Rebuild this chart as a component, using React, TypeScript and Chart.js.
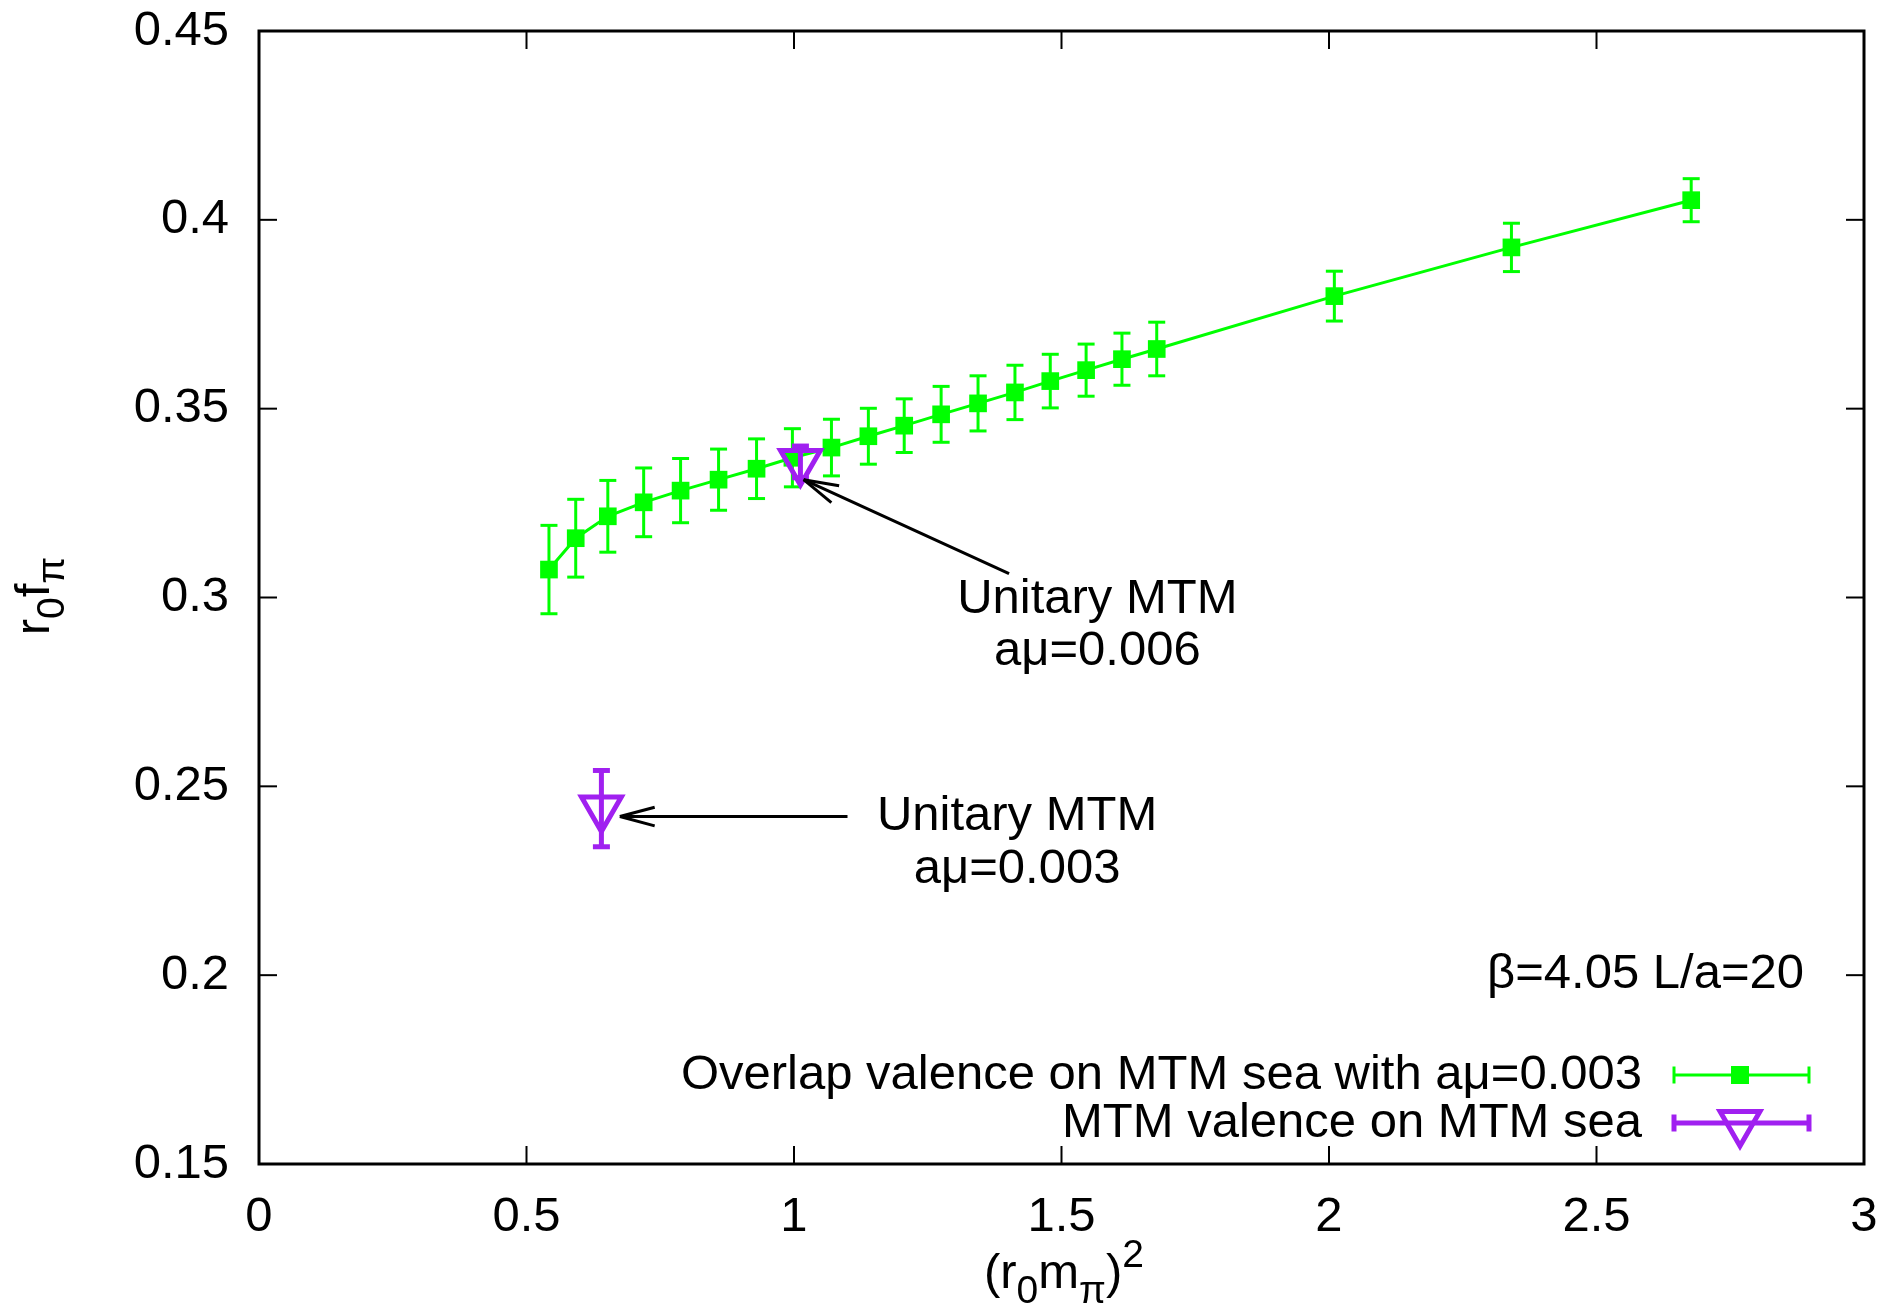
import React, { useEffect, useRef } from 'react';
import { Chart, registerables } from 'chart.js';

Chart.register(...registerables);

// ---- Data ----
const overlapX = [0.542, 0.592, 0.652, 0.719, 0.788, 0.859, 0.930, 0.997, 1.070, 1.139, 1.206, 1.275, 1.344, 1.413, 1.479, 1.546, 1.613, 1.678, 2.010, 2.341, 2.677];
const overlapY = [0.3074, 0.3157, 0.3215, 0.3252, 0.3283, 0.3312, 0.3341, 0.3370, 0.3397, 0.3427, 0.3455, 0.3485, 0.3514, 0.3543, 0.3573, 0.3602, 0.3631, 0.3658, 0.3798, 0.3927, 0.4052];
const overlapErr = [0.0117, 0.0103, 0.0095, 0.0091, 0.0085, 0.0081, 0.0079, 0.0077, 0.0075, 0.0074, 0.0071, 0.0074, 0.0073, 0.0072, 0.0071, 0.0069, 0.0069, 0.0071, 0.0066, 0.0064, 0.0057];

const mtmX = [0.640, 1.012];
const mtmY = [0.2441, 0.3359];
const mtmErr = [0.0101, 0.0042];

const xTickValues = [0, 0.5, 1, 1.5, 2, 2.5, 3];
const xTickLabels = ['0', '0.5', '1', '1.5', '2', '2.5', '3'];
const yTickValues = [0.15, 0.2, 0.25, 0.3, 0.35, 0.4, 0.45];
const yTickLabels = ['0.15', '0.2', '0.25', '0.3', '0.35', '0.4', '0.45'];

const legendLabels = ['Overlap valence on MTM sea with a\u03bc=0.003', 'MTM valence on MTM sea'];
const label1Lines = ['Unitary MTM', 'a\u03bc=0.006'];
const label2Lines = ['Unitary MTM', 'a\u03bc=0.003'];
const infoText = '\u03b2=4.05 L/a=20';

const GREEN = '#00ff00';
const PURPLE = '#a020f0';
const FAMILY = '"Liberation Sans", Arial, Helvetica, sans-serif';
const FS = 49;

type Seg = { t: string; s: 'n' | 'sub' | 'sup' };

function drawRich(ctx: CanvasRenderingContext2D, segs: Seg[], x: number, y: number) {
  const fontFor = (s: string) => `${s === 'n' ? FS : Math.round(FS * 0.8)}px ${FAMILY}`;
  let total = 0;
  for (const seg of segs) {
    ctx.font = fontFor(seg.s);
    total += ctx.measureText(seg.t).width;
  }
  let cx = x - total / 2;
  ctx.textAlign = 'left';
  ctx.textBaseline = 'alphabetic';
  for (const seg of segs) {
    ctx.font = fontFor(seg.s);
    const dy = seg.s === 'sub' ? 15 : seg.s === 'sup' ? -21 : 0;
    ctx.fillText(seg.t, cx, y + dy);
    cx += ctx.measureText(seg.t).width;
  }
}

function line(ctx: CanvasRenderingContext2D, x1: number, y1: number, x2: number, y2: number) {
  ctx.beginPath();
  ctx.moveTo(x1, y1);
  ctx.lineTo(x2, y2);
  ctx.stroke();
}

function drawErrorBars(chart: any, xs: number[], ys: number[], es: number[], color: string, lw: number, cap: number) {
  const { ctx, scales } = chart;
  const sx = scales.x;
  const sy = scales.y;
  ctx.save();
  ctx.strokeStyle = color;
  ctx.lineWidth = lw;
  ctx.lineCap = 'butt';
  xs.forEach((xv, i) => {
    const px = sx.getPixelForValue(xv);
    const top = sy.getPixelForValue(ys[i] + es[i]);
    const bot = sy.getPixelForValue(ys[i] - es[i]);
    line(ctx, px, top, px, bot);
    line(ctx, px - cap, top, px + cap, top);
    line(ctx, px - cap, bot, px + cap, bot);
  });
  ctx.restore();
}

function drawArrow(ctx: CanvasRenderingContext2D, x1: number, y1: number, x2: number, y2: number) {
  ctx.save();
  ctx.strokeStyle = '#000';
  ctx.lineWidth = 3;
  line(ctx, x1, y1, x2, y2);
  const ang = Math.atan2(y2 - y1, x2 - x1);
  const L = 36;
  const a = (15 * Math.PI) / 180;
  line(ctx, x2, y2, x2 - L * Math.cos(ang - a), y2 - L * Math.sin(ang - a));
  line(ctx, x2, y2, x2 - L * Math.cos(ang + a), y2 - L * Math.sin(ang + a));
  ctx.restore();
}

function drawTriangle(ctx: CanvasRenderingContext2D, x: number, y: number, r: number, color: string, lw: number) {
  ctx.save();
  ctx.strokeStyle = color;
  ctx.lineWidth = lw;
  ctx.beginPath();
  for (let k = 0; k < 3; k++) {
    const ang = Math.PI + (k * 2 * Math.PI) / 3;
    const px = x + Math.sin(ang) * r;
    const py = y - Math.cos(ang) * r;
    if (k === 0) ctx.moveTo(px, py);
    else ctx.lineTo(px, py);
  }
  ctx.closePath();
  ctx.stroke();
  ctx.restore();
}

const decorPlugin = {
  id: 'decor',
  beforeDatasetsDraw(chart: any) {
    const { ctx, chartArea: a, scales } = chart;
    const sx = scales.x;
    const sy = scales.y;
    ctx.save();
    ctx.strokeStyle = '#000';
    ctx.lineWidth = 2;
    const TL = 18;
    xTickValues.forEach((v) => {
      const px = sx.getPixelForValue(v);
      line(ctx, px, a.bottom, px, a.bottom - TL);
      line(ctx, px, a.top, px, a.top + TL);
    });
    yTickValues.forEach((v) => {
      const py = sy.getPixelForValue(v);
      line(ctx, a.left, py, a.left + TL, py);
      line(ctx, a.right, py, a.right - TL, py);
    });
    ctx.restore();
    drawErrorBars(chart, overlapX, overlapY, overlapErr, GREEN, 3, 8.5);
  },
  afterDatasetsDraw(chart: any) {
    const { ctx, chartArea: a, scales } = chart;
    const sx = scales.x;
    const sy = scales.y;
    drawErrorBars(chart, mtmX, mtmY, mtmErr, PURPLE, 5, 8.5);

    // border
    ctx.save();
    ctx.strokeStyle = '#000';
    ctx.lineWidth = 3;
    ctx.strokeRect(a.left, a.top, a.right - a.left, a.bottom - a.top);
    ctx.restore();

    // annotations
    drawArrow(ctx, sx.getPixelForValue(1.402), sy.getPixelForValue(0.3063), sx.getPixelForValue(1.018), sy.getPixelForValue(0.3312));
    drawArrow(ctx, sx.getPixelForValue(1.100), sy.getPixelForValue(0.2420), sx.getPixelForValue(0.6746), sy.getPixelForValue(0.2420));

    ctx.save();
    ctx.fillStyle = '#000';
    ctx.font = `${FS}px ${FAMILY}`;
    ctx.textAlign = 'center';
    ctx.textBaseline = 'middle';
    ctx.fillText(label1Lines[0], sx.getPixelForValue(1.567), sy.getPixelForValue(0.2995));
    ctx.fillText(label1Lines[1], sx.getPixelForValue(1.567), sy.getPixelForValue(0.2858));
    ctx.fillText(label2Lines[0], sx.getPixelForValue(1.417), sy.getPixelForValue(0.2420));
    ctx.fillText(label2Lines[1], sx.getPixelForValue(1.417), sy.getPixelForValue(0.2280));
    ctx.textAlign = 'right';
    ctx.fillText(infoText, sx.getPixelForValue(2.888), sy.getPixelForValue(0.2002));

    // legend
    const r1 = a.bottom - 89;
    const r2 = a.bottom - 41;
    const tx = a.right - 222;
    ctx.fillText(legendLabels[0], tx, r1);
    ctx.fillText(legendLabels[1], tx, r2);
    ctx.restore();

    const l0 = a.right - 190;
    const l1 = a.right - 55;
    const mid = a.right - 124;
    ctx.save();
    ctx.strokeStyle = GREEN;
    ctx.lineWidth = 3;
    line(ctx, l0, r1, l1, r1);
    line(ctx, l0, r1 - 8.5, l0, r1 + 8.5);
    line(ctx, l1, r1 - 8.5, l1, r1 + 8.5);
    ctx.fillStyle = GREEN;
    ctx.fillRect(mid - 9, r1 - 9, 18, 18);
    ctx.strokeStyle = PURPLE;
    ctx.lineWidth = 5;
    line(ctx, l0, r2, l1, r2);
    line(ctx, l0, r2 - 8.5, l0, r2 + 8.5);
    line(ctx, l1, r2 - 8.5, l1, r2 + 8.5);
    ctx.restore();
    drawTriangle(ctx, mid, r2, 23, PURPLE, 5);

    // axis titles
    ctx.save();
    ctx.fillStyle = '#000';
    drawRich(ctx, [
      { t: '(r', s: 'n' },
      { t: '0', s: 'sub' },
      { t: 'm', s: 'n' },
      { t: '\u03c0', s: 'sub' },
      { t: ')', s: 'n' },
      { t: '2', s: 'sup' },
    ], 1064, 1288);
    ctx.translate(49, 596);
    ctx.rotate(-Math.PI / 2);
    drawRich(ctx, [
      { t: 'r', s: 'n' },
      { t: '0', s: 'sub' },
      { t: 'f', s: 'n' },
      { t: '\u03c0', s: 'sub' },
    ], 0, 0);
    ctx.restore();
  },
};

export default function App() {
  const ref = useRef<HTMLCanvasElement | null>(null);

  useEffect(() => {
    document.body.style.margin = '0';
    const canvas = ref.current;
    if (!canvas) return;
    const chart = new Chart(canvas, {
      type: 'scatter',
      data: {
        datasets: [
          {
            label: legendLabels[0],
            data: overlapX.map((x, i) => ({ x, y: overlapY[i] })),
            showLine: true,
            borderColor: GREEN,
            borderWidth: 3,
            backgroundColor: GREEN,
            pointStyle: 'rect',
            pointRadius: 12.5,
            pointBorderWidth: 0,
            pointBackgroundColor: GREEN,
            order: 1,
          },
          {
            label: legendLabels[1],
            data: mtmX.map((x, i) => ({ x, y: mtmY[i] })),
            showLine: false,
            pointStyle: 'triangle',
            pointRotation: 180,
            pointRadius: 23,
            pointBorderWidth: 5,
            pointBorderColor: PURPLE,
            pointBackgroundColor: 'rgba(0,0,0,0)',
            order: 0,
          },
        ],
      },
      options: {
        responsive: false,
        animation: false,
        devicePixelRatio: 1,
        layout: { padding: { top: 31, right: 25, left: 0, bottom: 0 } },
        plugins: { legend: { display: false }, tooltip: { enabled: false } },
        scales: {
          x: {
            type: 'linear',
            min: 0,
            max: 3,
            afterFit: (s: any) => {
              s.height = 143;
              s.paddingLeft = 0;
              s.paddingRight = 0;
              s.paddingTop = 0;
              s.paddingBottom = 0;
            },
            afterBuildTicks: (s: any) => {
              s.ticks = xTickValues.map((v) => ({ value: v }));
            },
            grid: { display: false, drawTicks: false },
            border: { display: false },
            ticks: {
              padding: 24,
              color: '#000',
              maxRotation: 0,
              font: { family: FAMILY, size: FS },
              callback: (_v: any, i: number) => xTickLabels[i],
            },
          },
          y: {
            type: 'linear',
            min: 0.15,
            max: 0.45,
            afterFit: (s: any) => {
              s.width = 259;
              s.paddingLeft = 0;
              s.paddingRight = 0;
              s.paddingTop = 0;
              s.paddingBottom = 0;
            },
            afterBuildTicks: (s: any) => {
              s.ticks = yTickValues.map((v) => ({ value: v }));
            },
            grid: { display: false, drawTicks: false },
            border: { display: false },
            ticks: {
              padding: 30,
              color: '#000',
              font: { family: FAMILY, size: FS },
              callback: (_v: any, i: number) => yTickLabels[i],
            },
          },
        },
      },
      plugins: [decorPlugin],
    } as any);
    return () => chart.destroy();
  }, []);

  return (
    <div style={{ position: 'absolute', left: 0, top: 0, width: 1892, height: 1307, background: '#fff' }}>
      <canvas ref={ref} width={1892} height={1307} style={{ width: 1892, height: 1307 }} />
    </div>
  );
}
